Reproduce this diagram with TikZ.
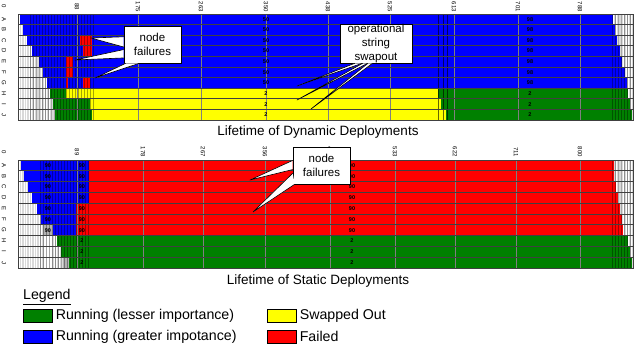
\documentclass[tikz,border=0pt]{standalone}
\usepackage{fontspec}
\setmainfont{Liberation Sans}
\usetikzlibrary{positioning}

\definecolor{runlow}{RGB}{0,128,0}
\definecolor{runhigh}{RGB}{0,0,255}
\definecolor{swapped}{RGB}{255,255,0}
\definecolor{failed}{RGB}{255,0,0}

% one coloured piece of a row: row, from x, to x, colour
\newcommand\seg[4]{\fill[#4] (#2,#1*\rh) rectangle (#3,#1*\rh+\rh);}

\begin{document}
\begin{tikzpicture}
  [x=1pt,y=-1pt,
   tick/.style={font=\fontsize{6}{6}\selectfont,rotate=-90,inner sep=0pt},
   val/.style={font=\fontsize{5.5}{6}\selectfont\bfseries,inner sep=0pt},
   sep/.style={gray!50!black,line width=0.8pt},
   stripe/.style={black,opacity=0.35,line width=0.4pt},
   grid/.style={gray,line width=0.3pt},
   box/.style={draw,fill=white,line width=0.6pt,align=center,inner sep=0pt,
     font=\fontsize{11.5}{14}\selectfont},
   wedge/.style={draw,fill=white,line width=0.6pt,line join=round},
   title/.style={font=\fontsize{13.5}{14}\selectfont,inner sep=0pt},
   swatch/.style={draw,line width=0.6pt,minimum width=29pt,minimum height=13pt,inner sep=0pt,anchor=north west},
   legtext/.style={font=\fontsize{14.2}{14}\selectfont,inner sep=0pt,right=3pt of #1},
  ]
  \useasboundingbox (0,0) rectangle (637,345);

  % dynamic deployments
  \begin{scope}[shift={(0,14)}]
    \def\rh{10.6}
    \fill[gray!30] (18,0) rectangle (57,10*\rh);
    \fill[gray!30] (609,0) rectangle (633,10*\rh);
    \foreach \x in {19,21.5,...,56} \draw[white,line width=0.6pt] (\x,0) -- (\x,10*\rh);
    \foreach \x in {611,613.5,...,632} \draw[white,line width=0.6pt] (\x,0) -- (\x,10*\rh);
    \foreach \r/\a/\b in {0/20/613,1/23/615,2/27/617,3/32/620,4/39/622,5/43/625,6/47/627}
      \seg{\r}{\a}{\b}{runhigh};
    \foreach \r/\a/\c/\d/\b in {7/50/66/438/628,8/53/90/441/630,9/55/92/446/632}{
      \seg{\r}{\a}{\c}{runlow}
      \seg{\r}{\c}{\d}{swapped}
      \seg{\r}{\d}{\b}{runlow}
    }
    \foreach \r/\a/\b in {2/80/92,3/83/92,4/66/73,5/66/73,6/66/68,6/83/90}
      \seg{\r}{\a}{\b}{failed};
    \foreach \x in {30,33,...,93} \draw[stripe] (\x,0) -- (\x,10*\rh);
    \foreach \x in {612,615,...,632} \draw[stripe] (\x,0) -- (\x,10*\rh);
    \foreach \x in {438,443,447} \draw[stripe,opacity=0.6] (\x,0) -- (\x,10*\rh);
    \foreach \x in {77,138,201,266,328,390,454,518,580} \draw[grid] (\x,0) -- (\x,10*\rh);
    \foreach \r in {1,...,9} \draw[sep] (18,\r*\rh) -- (633,\r*\rh);
    \draw[sep] (18,0) rectangle (633,10*\rh);
    % axes
    \node[tick] (dyn-0) at (4,-8) {0};
    \foreach \l [count=\r from 0] in {A,...,J}
      \node[tick] (dyn-\l) at (4,\r*\rh+\rh/2) {\l};
    \foreach \v/\x in {88/77,175/138,263/201,350/266,438/328,525/390,613/454,701/518,788/580}
      \node[tick] (dyn-t\v) at (\x,-7) {\v};
    % values
    \foreach \r in {0,...,6}{
      \node[val] (dyn-a\r) at (266,\r*\rh+\rh/2) {50};
      \node[val] (dyn-b\r) at (530,\r*\rh+\rh/2) {98};
    }
    \foreach \r in {7,8,9}{
      \node[val] (dyn-a\r) at (266,\r*\rh+\rh/2) {2};
      \node[val] (dyn-b\r) at (530,\r*\rh+\rh/2) {2};
    }
  \end{scope}

  % static deployments
  \begin{scope}[shift={(0,160)}]
    \def\rh{10.8}
    \fill[gray!30] (18,0) rectangle (69,10*\rh);
    \fill[gray!30] (609,0) rectangle (633,10*\rh);
    \foreach \x in {19,21.5,...,68} \draw[white,line width=0.6pt] (\x,0) -- (\x,10*\rh);
    \foreach \x in {611,613.5,...,632} \draw[white,line width=0.6pt] (\x,0) -- (\x,10*\rh);
    \foreach \r/\a/\b in {0/21/614,1/24/614,2/28/616,3/32/618}{
      \seg{\r}{\a}{89}{runhigh}
      \seg{\r}{89}{\b}{failed}
    }
    \foreach \r/\a/\b in {4/37/620,5/41/622,6/53/623}{
      \seg{\r}{\a}{76}{runhigh}
      \seg{\r}{76}{\b}{failed}
    }
    \seg{6}{43}{53}{gray!60}
    \foreach \r/\a/\b in {7/57/628,8/61/630,9/69/632}{
      \seg{\r}{45}{52}{white}
      \seg{\r}{\a}{\b}{runlow}
    }
    \seg{9}{63}{69}{gray!60}
    \foreach \x in {40,43,...,89} \draw[stripe] (\x,0) -- (\x,10*\rh);
    \foreach \x in {612,615,...,632} \draw[stripe] (\x,0) -- (\x,10*\rh);
    \foreach \x in {77,143,203,265,330,395,455,516,580} \draw[grid] (\x,0) -- (\x,10*\rh);
    \foreach \r in {1,...,9} \draw[sep] (18,\r*\rh) -- (633,\r*\rh);
    \draw[sep] (18,0) rectangle (633,10*\rh);
    % axes
    \node[tick] (sta-0) at (4,-8) {0};
    \foreach \l [count=\r from 0] in {A,...,J}
      \node[tick] (sta-\l) at (4,\r*\rh+\rh/2) {\l};
    \foreach \v/\x in {89/77,178/143,267/203,356/265,444/330,533/395,622/455,711/516,800/580}
      \node[tick] (sta-t\v) at (\x,-8) {\v};
    % values
    \foreach \r in {0,...,6}{
      \node[val] (sta-a\r) at (48,\r*\rh+\rh/2) {90};
      \node[val] (sta-b\r) at (82,\r*\rh+\rh/2) {90};
      \node[val] (sta-c\r) at (352,\r*\rh+\rh/2) {90};
    }
    \foreach \r in {7,8,9}{
      \node[val] (sta-b\r) at (82,\r*\rh+\rh/2) {2};
      \node[val] (sta-c\r) at (352,\r*\rh+\rh/2) {2};
    }
  \end{scope}

  % callouts
  \coordinate (nfa) at (91,38);
  \coordinate (nfb) at (75,60);
  \coordinate (nfc) at (95,78);
  \node[box,minimum width=57pt,minimum height=37pt] (nf1) at (152.5,44.5) {node\\failures};
  \draw[wedge] (nf1.165) -- (nfa) -- (nf1.185);
  \draw[wedge] (nf1.190) -- (nfb) -- (nf1.205);
  \draw[wedge] (nf1.215) -- (nfc) -- (nf1.235);

  \coordinate (ssa) at (297,86);
  \coordinate (ssb) at (297,100);
  \coordinate (ssc) at (311,109);
  \node[box,minimum width=72pt,minimum height=39pt] (ss) at (376,43.5) {operational\\string\\swapout};
  \draw[wedge] (ss.223) -- (ssa) -- (ss.235);
  \draw[wedge] (ss.236) -- (ssb) -- (ss.247);
  \draw[wedge] (ss.248) -- (ssc) -- (ss.260);

  \coordinate (nfd) at (250,180);
  \coordinate (nfe) at (253,212);
  \node[box,minimum width=57pt,minimum height=37pt] (nf2) at (321.5,165.5) {node\\failures};
  \draw[wedge] (nf2.170) -- (nfd) -- (nf2.188);
  \draw[wedge] (nf2.195) -- (nfe) -- (nf2.215);

  % titles
  \node[title] (dyntitle) at (318,132) {Lifetime of Dynamic Deployments};
  \node[title] (statitle) at (318,281) {Lifetime of Static Deployments};

  % legend
  \node[font=\fontsize{14.2}{14}\selectfont,inner sep=0pt,anchor=west] (legend) at (23,297) {\underline{Legend}};
  \node[swatch,fill=runlow] (sw1) at (23,309) {};
  \node[legtext=sw1] (lt1) {Running (lesser importance)};
  \node[swatch,fill=runhigh] (sw2) at (23,330) {};
  \node[legtext=sw2] (lt2) {Running (greater impotance)};
  \node[swatch,fill=swapped] (sw3) at (267,309) {};
  \node[legtext=sw3] (lt3) {Swapped Out};
  \node[swatch,fill=failed] (sw4) at (267,330) {};
  \node[legtext=sw4] (lt4) {Failed};
\end{tikzpicture}
\end{document}
